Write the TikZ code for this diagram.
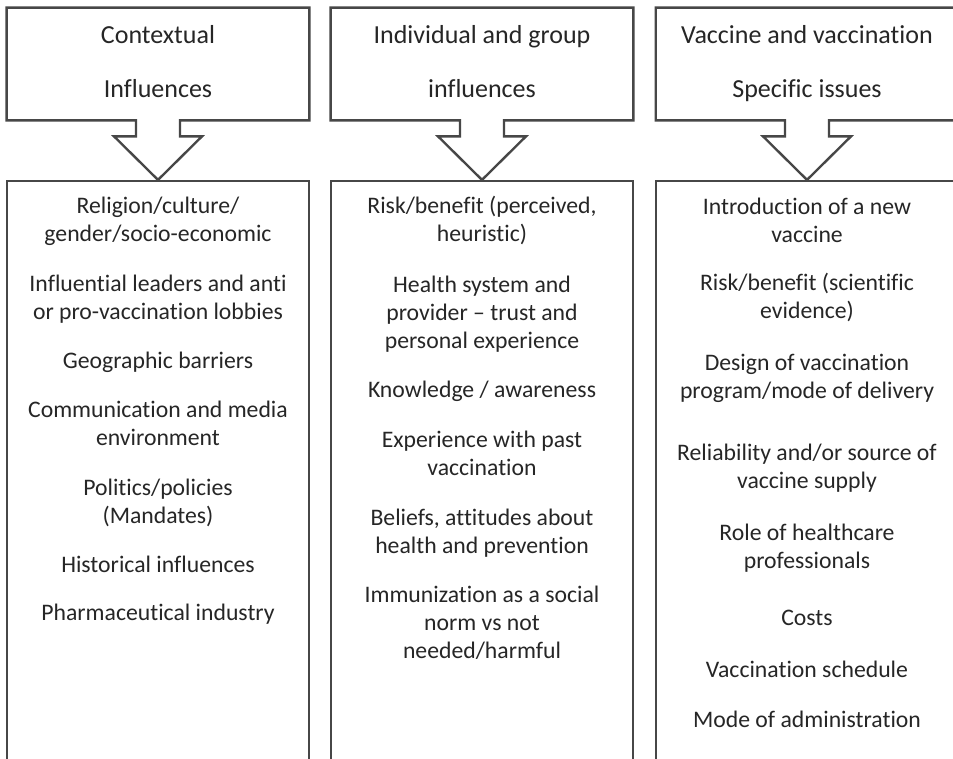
\documentclass[tikz,border=0pt]{standalone}
\usepackage{fontspec}
\setmainfont{Carlito}[Ligatures=NoCommon]
\usetikzlibrary{calc}

\tikzset{
  frame/.style={draw=black!72, line width=1.35pt},
  hdr/.style={minimum width=6.04cm, minimum height=2.24cm, inner sep=0pt},
  title/.style={anchor=base, inner sep=0pt, align=center, text=black!85,
    font=\fontsize{14.8}{30.6}\selectfont},
  panel/.style={frame, fill=white, minimum width=6.04cm, minimum height=12.38cm, inner sep=0pt},
  item/.style={anchor=base, inner sep=0pt, align=center, text=black!85,
    font=\fontsize{13.5}{15.9}\selectfont},
}

\begin{document}
\begin{tikzpicture}[x=0.02cm, y=-0.02cm]
\clip (0,0) rectangle (953,758);
\fill[white] (0,0) rectangle (953,758);

% list panels
\node[panel] (ctxlist) at (158,490.5) {};
\node[panel] (grplist) at (482,490.5) {};
\node[panel] (vaclist) at (807,490.5) {};

% heading boxes
\node[hdr] (ctx) at (158,64) {};
\node[hdr] (grp) at (482,64) {};
\node[hdr] (vac) at (807,64) {};

% outline of each heading with the arrow down to its panel
\foreach \h/\b in {ctx/ctxlist, grp/grplist, vac/vaclist}{
  \draw[frame, line join=miter]
    ($(\h.south)+(-22,0)$) -- (\h.south west) -- (\h.north west) -- (\h.north east)
    -- (\h.south east) -- ($(\h.south)+(22,0)$) -- ++(0,16) -- ++(22,0)
    -- (\b.north) -- ($(\h.south)+(-44,16)$) -- ++(22,0) -- cycle;
}

% heading texts (base = last line)
\node[title] (ctxtitle) at (ctx |- 0,97) {Contextual\\Influences};
\node[title] (grptitle) at (grp |- 0,97) {Individual and group\\influences};
\node[title] (vactitle) at (vac |- 0,97) {Vaccine and vaccination\\Specific issues};

% contextual influences
\node[item] (c1) at (158,241) {Religion/culture/\\gender/socio-economic};
\node[item] (c2) at (158,319) {Influential leaders and anti\\or pro-vaccination lobbies};
\node[item] (c3) at (158,368) {Geographic barriers};
\node[item] (c4) at (158,445) {Communication and media\\environment};
\node[item] (c5) at (158,523) {Politics/policies\\(Mandates)};
\node[item] (c6) at (158,572) {Historical influences};
\node[item] (c7) at (158,620) {Pharmaceutical industry};

% individual and group influences
\node[item] (g1) at (482,241) {Risk/benefit (perceived,\\heuristic)};
\node[item] (g2) at (482,348) {Health system and\\provider -- trust and\\personal experience};
\node[item] (g3) at (482,397) {Knowledge / awareness};
\node[item] (g4) at (482,475) {Experience with past\\vaccination};
\node[item] (g5) at (482,553) {Beliefs, attitudes about\\health and prevention};
\node[item] (g6) at (482,658) {Immunization as a social\\norm vs not\\needed/harmful};

% vaccine specific issues
\node[item] (v1) at (807,242) {Introduction of a new\\vaccine};
\node[item] (v2) at (807,318) {Risk/benefit (scientific\\evidence)};
\node[item] (v3) at (807,398) {Design of vaccination\\program/mode of delivery};
\node[item] (v4) at (807,488) {Reliability and/or source of\\vaccine supply};
\node[item] (v5) at (807,568) {Role of healthcare\\professionals};
\node[item] (v6) at (807,625) {Costs};
\node[item] (v7) at (807,677) {Vaccination schedule};
\node[item] (v8) at (807,727) {Mode of administration};
\end{tikzpicture}
\end{document}
